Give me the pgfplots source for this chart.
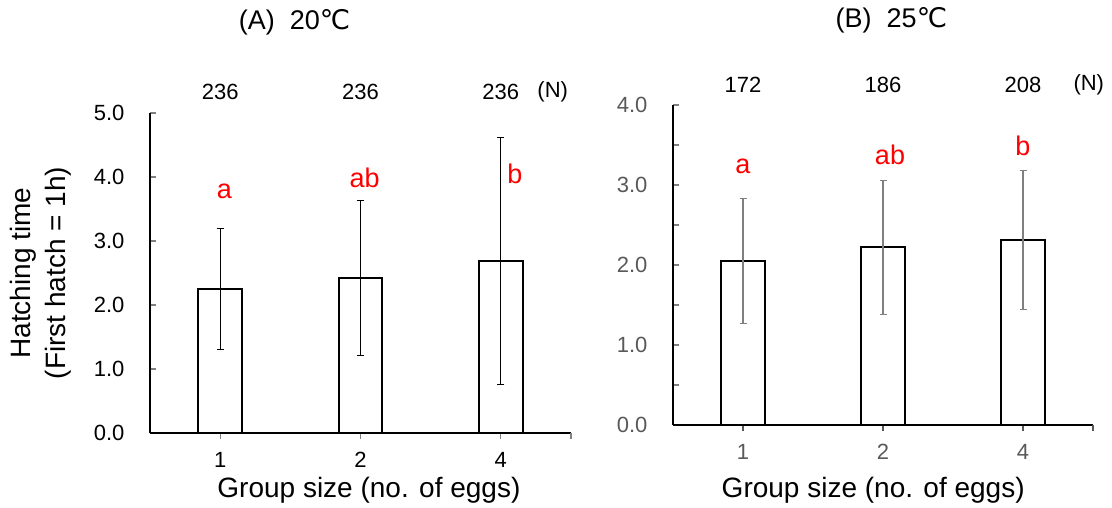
\documentclass[border=0pt]{standalone}
\usepackage{pgfplots}
\pgfplotsset{compat=1.18}
\usepackage{pgfplotstable}
\usepackage{fontspec}
\setmainfont{Liberation Sans}
\newfontfamily\dejavu{DejaVu Sans}
\definecolor{axgray}{HTML}{595959}
\definecolor{errgray}{HTML}{7F7F7F}

\pgfplotstableread{
x y err
0 2.25 0.94
1 2.42 1.21
2 2.69 1.93
}\dataA
\pgfplotstableread{
x y err
0 2.05 0.78
1 2.22 0.84
2 2.31 0.87
}\dataB

\pgfplotsset{
  common/.style={
    scale only axis, height=320pt,
    axis x line*=bottom, axis y line*=left,
    axis line style={line width=1.3pt},
    xmin=-0.5, xmax=2.5, xtick={0,1,2}, xticklabels={1,2,4},
    extra x ticks={2.5}, extra x tick labels={},
    ymin=0, clip=false,
    tick align=inside, xtick align=outside,
    major tick length=6pt, minor tick length=6pt,
    tick style={line width=1.2pt},
    xticklabel style={font=\fontsize{22}{26}\selectfont, yshift=-10pt},
    yticklabel style={font=\fontsize{22}{26}\selectfont, xshift=-22pt},
  },
}
\newcommand{\nf}{\fontsize{22}{26}\selectfont}
\newcommand{\lf}{\fontsize{27}{32}\selectfont}
\newcommand{\tf}{\fontsize{27}{32}\selectfont}
\newcommand{\af}{\fontsize{28}{35}\selectfont}

\begin{document}
\begin{tikzpicture}[x=1pt,y=1pt]
\useasboundingbox (0,0) rectangle (1112,508);
% ---------- Panel A ----------
\begin{axis}[common, at={(150pt,75pt)}, anchor=south west, width=421pt,
    ymax=5, ytick={0,1,2,3,4,5},
    yticklabels={0.0,1.0,2.0,3.0,4.0,5.0}]
\addplot[ybar, bar width=0.313, fill=white, draw=black, line width=2pt,
    error bars/.cd, y dir=both, y explicit,
    error bar style={line width=1.3pt, black},
    error mark options={rotate=90, mark size=3.5pt, line width=1.3pt, black}]
    table[x=x, y=y, y error=err]{\dataA};
\node[font=\nf] at (axis cs:0,5.33) {236};
\node[font=\nf] at (axis cs:1,5.33) {236};
\node[font=\nf] at (axis cs:2,5.33) {236};
\node[font=\nf] at (axis cs:2.37,5.33) {(N)};
\node[font=\lf, text=red] at (axis cs:0.03,3.77) {a};
\node[font=\lf, text=red] at (axis cs:1.03,3.98) {ab};
\node[font=\lf, text=red] at (axis cs:2.1,4.05) {b};
\node[font=\tf] at (axis cs:0.53,6.42) {(A)\ \ 20{\dejavu ℃}};
\node[font=\af, rotate=90, align=center] at (axis cs:-1.28,2.5)
    {Hatching time\\(First hatch = 1h)};
\node[font=\af] at (axis cs:1.06,-0.89) {Group size (no. of eggs)};
\end{axis}
% ---------- Panel B ----------
\begin{axis}[common, at={(673pt,83pt)}, anchor=south west, width=420pt,
    ymax=4, ytick={0,1,2,3,4},
    yticklabels={0.0,1.0,2.0,3.0,4.0},
    minor ytick={0.5,1.5,2.5,3.5},
    ticklabel style={text=axgray},
    xtick style={axgray}]
\addplot[ybar, bar width=0.314, fill=white, draw=black, line width=2pt,
    error bars/.cd, y dir=both, y explicit,
    error bar style={line width=1.3pt, errgray},
    error mark options={rotate=90, mark size=3.5pt, line width=1.3pt, errgray}]
    table[x=x, y=y, y error=err]{\dataB};
\node[font=\nf] at (axis cs:0,4.25) {172};
\node[font=\nf] at (axis cs:1,4.25) {186};
\node[font=\nf] at (axis cs:2,4.25) {208};
\node[font=\nf] at (axis cs:2.47,4.25) {(N)};
\node[font=\lf, text=red] at (axis cs:0,3.23) {a};
\node[font=\lf, text=red] at (axis cs:1.05,3.38) {ab};
\node[font=\lf, text=red] at (axis cs:2,3.49) {b};
\node[font=\tf] at (axis cs:1.06,5.06) {(B)\ \ 25{\dejavu ℃}};
\node[font=\af] at (axis cs:0.93,-0.81) {Group size (no. of eggs)};
\end{axis}
\end{tikzpicture}
\end{document}
